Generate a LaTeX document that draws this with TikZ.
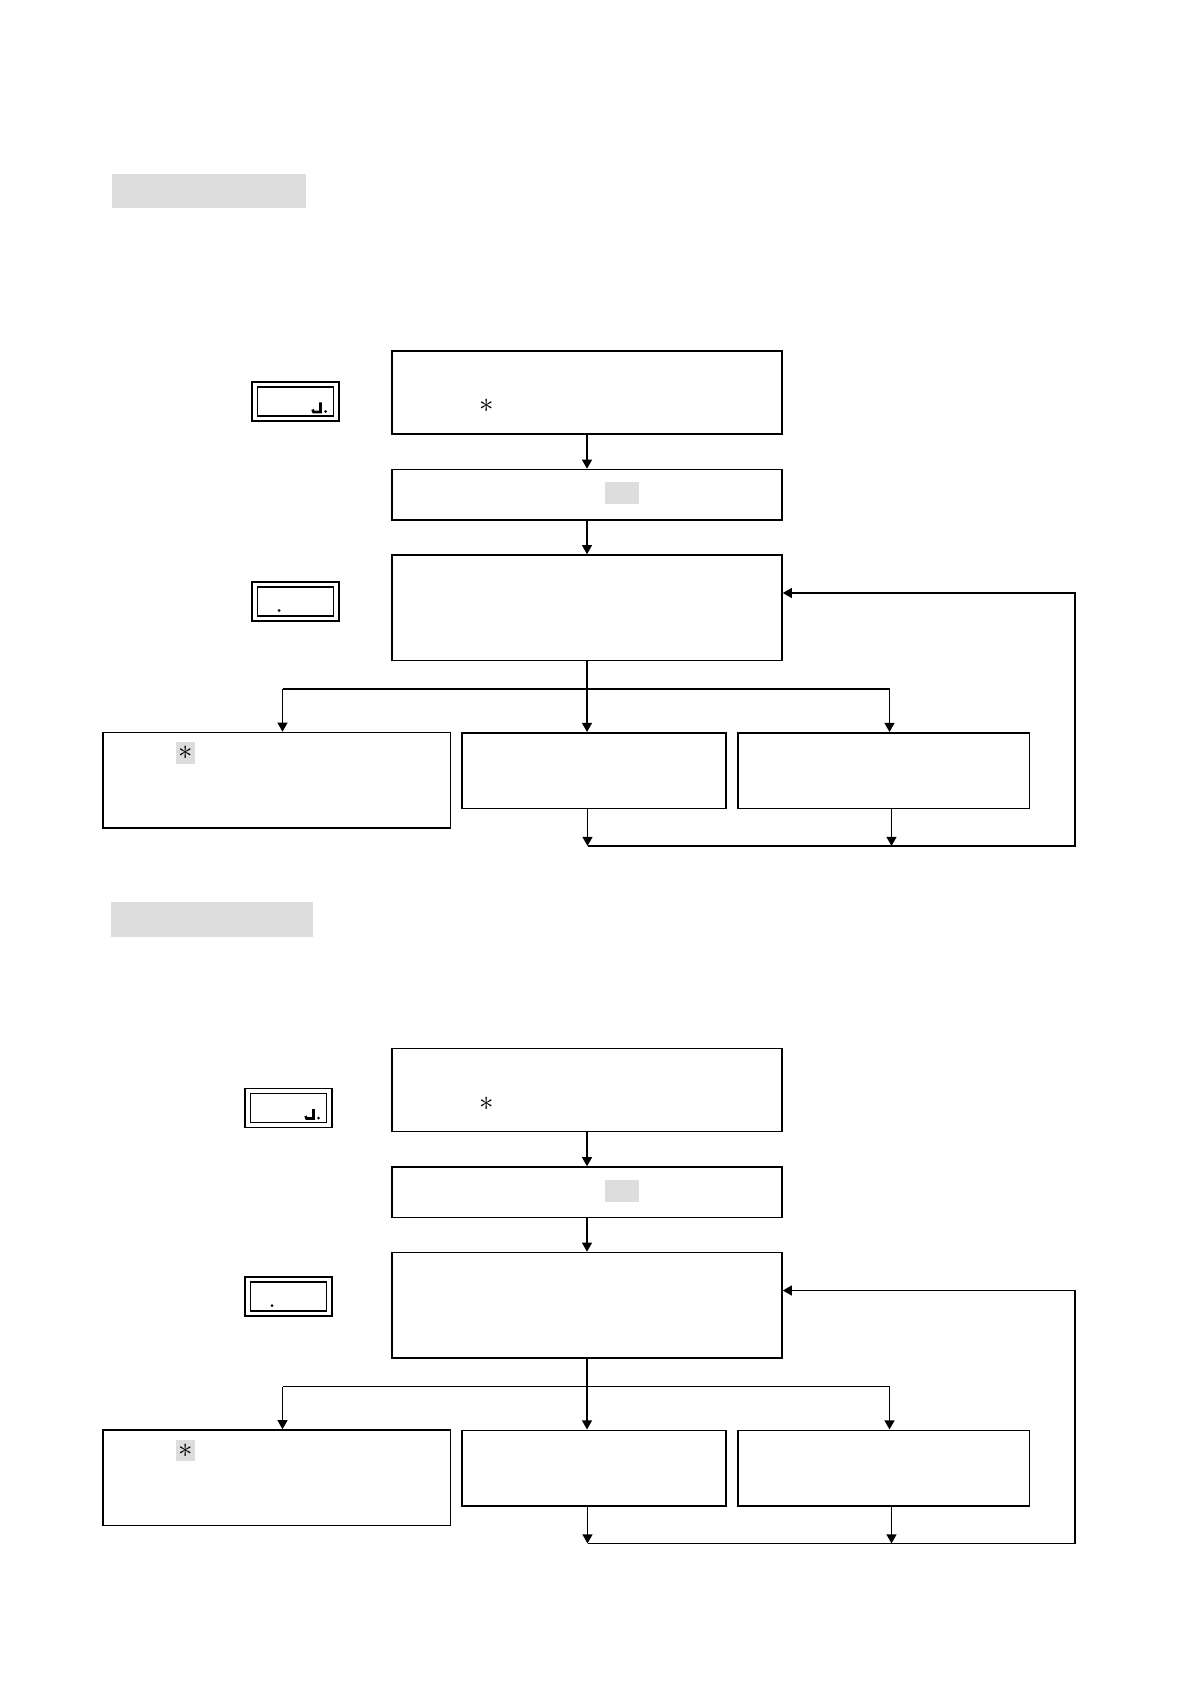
\documentclass[tikz,border=0pt]{standalone}
\usepackage{amsmath,amssymb}
\usepackage{tikz}
\usetikzlibrary{arrows.meta}
\definecolor{shade}{HTML}{DDDDDD}

\begin{document}
\begin{tikzpicture}[x=0.5pt, y=-0.5pt, >={Triangle[length=4.6pt,width=5pt]},
	box/.style 2 args={draw, line width=0.75pt, inner sep=0pt, minimum width=#1, minimum height=#2},
	patch/.style 2 args={fill=shade, inner sep=0pt, minimum width=#1, minimum height=#2},
	disp/.style={draw, line width=0.6pt, inner sep=0pt, minimum width=43.5pt, minimum height=19.5pt},
	dispin/.style={draw, line width=0.6pt, inner sep=0pt, minimum width=38pt, minimum height=14.5pt},
	every path/.style={line width=0.75pt}]
	\useasboundingbox (0,0) rectangle (1188,1684);
	\node[patch={97.2pt}{17.2pt}] (hdr1) at (208.9,191.2) {};
	\node[patch={101pt}{17.15pt}] (hdr2) at (211.6,919.5) {};
	\foreach \s/\dy/\dx/\ya/\yb in {1/0/0/401.5/601.5, 2/697.5/-7/410.5/599} {
		\begin{scope}[shift={(0,\dy)}]
			\node[box={195pt}{41.5pt}] (prep\s) at (587,392.5) {};
			\node[box={195pt}{25.25pt}] (key\s) at (587,494.75) {};
			\node[box={195pt}{52.75pt}] (sel\s) at (587,607.75) {};
			\node[box={173.75pt}{47.75pt}] (optL\s) at (276.75,780.25) {};
			\node[box={132pt}{37.75pt}] (optM\s) at (594,770.5) {};
			\node[box={145.75pt}{37.75pt}] (optR\s) at (883.5,770.5) {};
			\node[inner sep=0pt, font=\Large] (star\s) at (486.7,406) {$\ast$};
			\node[patch={9.5pt}{10.7pt}, font=\Large] (starL\s) at (185.5,753) {$\ast$};
			\node[patch={17.15pt}{11pt}] (tab\s) at (621.9,493) {};
			% displays
			\node[disp] (dispA\s) at (295.5+\dx,\ya) {};
			\node[dispin] at (dispA\s) {};
			\draw[line width=1.3pt] (312.5+\dx,\ya+8) -- (313.5+\dx,\ya+10.5) -- (320.5+\dx,\ya+10.5) -- (320.5+\dx,\ya+1);
			\fill (325.5+\dx,\ya+10) circle (1.5);
			\node[disp] (dispB\s) at (295.5+\dx,\yb) {};
			\node[dispin] at (dispB\s) {};
			\fill (279+\dx,\yb+9) circle (1.5);
			% connectors
			\draw[->] (prep\s) -- (key\s);
			\draw[->] (key\s) -- (sel\s);
			\coordinate (fork\s) at (587,689);
			\coordinate (forkL\s) at (282.5,689);
			\coordinate (forkR\s) at (889.5,689);
			\draw (sel\s.south -| fork\s) -- (fork\s);
			\draw (forkL\s) -- (forkR\s);
			\draw[->] (forkL\s) -- (forkL\s |- optL\s.north);
			\draw[->] (fork\s) -- (fork\s |- optM\s.north);
			\draw[->] (forkR\s) -- (forkR\s |- optR\s.north);
			\coordinate (loopL\s) at (587.5,846);
			\coordinate (loopM\s) at (891.5,846);
			\coordinate (loopR\s) at (1075,846);
			\coordinate (back\s) at (1075,593);
			\draw[->] (optM\s.south -| loopL\s) -- (loopL\s);
			\draw[->] (optR\s.south -| loopM\s) -- (loopM\s);
			\draw[->] (loopL\s) -- (loopR\s) -- (back\s) -- (back\s -| sel\s.east);
		\end{scope}
	}
\end{tikzpicture}
\end{document}
